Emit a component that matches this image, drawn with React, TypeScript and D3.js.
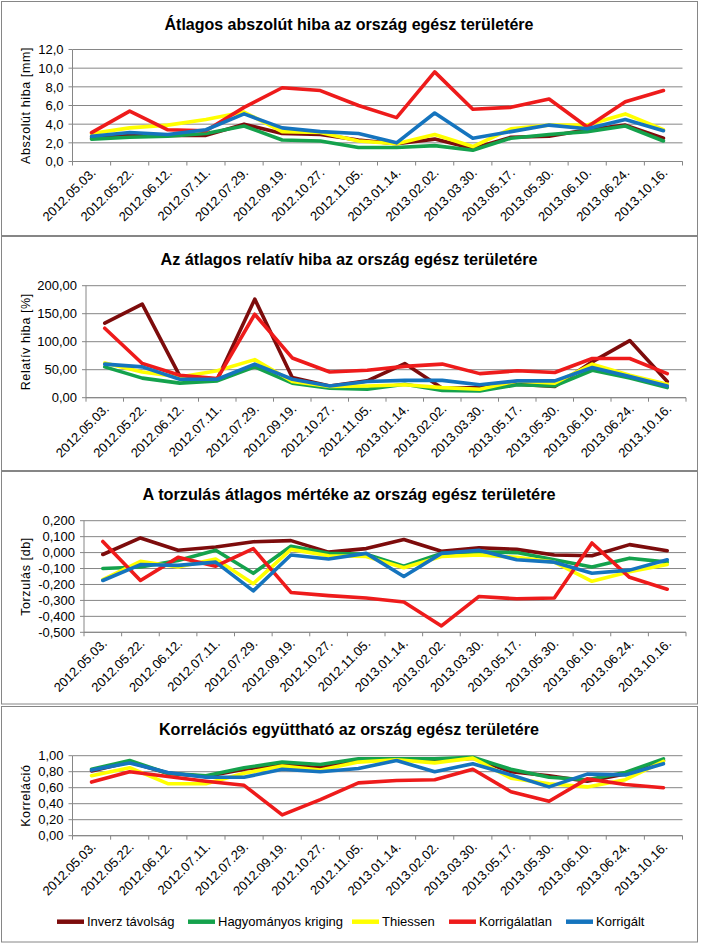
import React from "react";
import * as d3 from "d3";

const categories = [
  "2012.05.03.", "2012.05.22.", "2012.06.12.", "2012.07.11.", "2012.07.29.",
  "2012.09.19.", "2012.10.27.", "2012.11.05.", "2013.01.14.", "2013.02.02.",
  "2013.03.30.", "2013.05.17.", "2013.05.30.", "2013.06.10.", "2013.06.24.",
  "2013.10.16.",
];

const seriesNames = ["Inverz távolság", "Hagyományos kriging", "Thiessen", "Korrigálatlan", "Korrigált"];
const seriesColors = ["#7D0C0C", "#14A24C", "#FFFF00", "#EE1B1B", "#1574BE"];

// Panel 1: Átlagos abszolút hiba [mm]
const absInverz = [2.5, 2.8, 2.8, 2.8, 4.0, 3.0, 2.9, 2.3, 1.9, 2.4, 1.4, 2.6, 2.7, 3.4, 3.9, 2.5];
const absKriging = [2.4, 2.6, 2.7, 3.0, 3.8, 2.3, 2.2, 1.5, 1.5, 1.7, 1.2, 2.5, 2.9, 3.2, 3.8, 2.2];
const absThiessen = [3.0, 3.6, 3.9, 4.5, 5.3, 3.2, 3.1, 2.2, 1.9, 2.9, 1.6, 3.5, 3.9, 3.9, 5.1, 3.4];
const absKorrigalatlan = [3.1, 5.4, 3.4, 3.3, 5.8, 7.9, 7.6, 6.0, 4.7, 9.6, 5.6, 5.8, 6.7, 3.7, 6.4, 7.6];
const absKorrigalt = [2.7, 3.1, 2.9, 3.4, 5.1, 3.6, 3.2, 3.0, 2.0, 5.2, 2.5, 3.2, 3.9, 3.5, 4.5, 3.3];

// Panel 2: Relatív hiba [%]
const relInverz = [133, 167, 39, 33, 176, 36, 21, 30, 61, 17, 18, 24, 20, 64, 102, 29];
const relKriging = [55, 35, 26, 30, 55, 26, 17, 15, 24, 13, 12, 23, 21, 49, 35, 18];
const relThiessen = [62, 46, 37, 48, 68, 29, 20, 21, 23, 18, 15, 30, 26, 60, 40, 24];
const relKorrigalatlan = [124, 61, 40, 34, 149, 71, 46, 49, 56, 60, 43, 48, 45, 70, 70, 43];
const relKorrigalt = [60, 55, 33, 33, 60, 33, 21, 29, 31, 31, 23, 30, 30, 54, 38, 21];

// Panel 3: Torzulás [db]
const biasInverz = [-0.012, 0.092, 0.015, 0.035, 0.068, 0.075, 0.003, 0.025, 0.082, 0.008, 0.03, 0.02, -0.015, -0.02, 0.05, 0.012];
const biasKriging = [-0.1, -0.09, -0.05, 0.015, -0.13, 0.04, -0.005, -0.01, -0.085, -0.005, 0.005, 0.0, -0.045, -0.09, -0.035, -0.06];
const biasThiessen = [-0.17, -0.055, -0.09, -0.04, -0.195, 0.02, -0.02, -0.025, -0.095, -0.025, -0.015, -0.03, -0.06, -0.18, -0.12, -0.075];
const biasKorrigalatlan = [0.07, -0.175, -0.03, -0.085, 0.025, -0.25, -0.27, -0.285, -0.31, -0.46, -0.275, -0.29, -0.285, 0.06, -0.155, -0.23];
const biasKorrigalt = [-0.175, -0.075, -0.08, -0.06, -0.24, -0.015, -0.04, -0.005, -0.15, -0.005, 0.015, -0.045, -0.06, -0.13, -0.11, -0.045];

// Panel 4: Korreláció
const corInverz = [0.81, 0.92, 0.78, 0.74, 0.83, 0.89, 0.85, 0.95, 0.95, 0.93, 0.97, 0.8, 0.75, 0.68, 0.77, 0.94];
const corKriging = [0.83, 0.94, 0.78, 0.75, 0.85, 0.92, 0.89, 0.96, 0.96, 0.96, 0.98, 0.83, 0.73, 0.7, 0.79, 0.96];
const corThiessen = [0.75, 0.85, 0.65, 0.65, 0.78, 0.87, 0.82, 0.92, 0.95, 0.91, 0.97, 0.72, 0.65, 0.61, 0.7, 0.93];
const corKorrigalatlan = [0.67, 0.8, 0.74, 0.68, 0.63, 0.26, 0.45, 0.66, 0.69, 0.7, 0.83, 0.55, 0.43, 0.71, 0.64, 0.6];
const corKorrigalt = [0.82, 0.91, 0.79, 0.73, 0.73, 0.83, 0.8, 0.84, 0.94, 0.8, 0.9, 0.76, 0.61, 0.77, 0.76, 0.9];

const panelTitles = [
  "Átlagos abszolút hiba az ország egész területére",
  "Az átlagos relatív hiba az ország egész területére",
  "A torzulás átlagos mértéke az ország egész területére",
  "Korrelációs együttható az ország egész területére",
];
const axisTitles = ["Abszolút hiba [mm]", "Relatív hiba [%]", "Torzulás [db]", "Korreláció"];
const yMins = [0, 0, -0.5, 0];
const yMaxs = [12, 200, 0.2, 1];
const ySteps = [2, 50, 0.1, 0.2];
const yDecimals = [1, 2, 3, 2];

const panelData = [
  [absInverz, absKriging, absThiessen, absKorrigalatlan, absKorrigalt],
  [relInverz, relKriging, relThiessen, relKorrigalatlan, relKorrigalt],
  [biasInverz, biasKriging, biasThiessen, biasKorrigalatlan, biasKorrigalt],
  [corInverz, corKriging, corThiessen, corKorrigalatlan, corKorrigalt],
];

// layout (pixels)
const layouts = [
  { boxTop: 1.5, boxBottom: 235.5, left: 72.5, right: 682.5, top: 49.5, bottom: 161.5, titleY: 30, titleW: 369 },
  { boxTop: 236.5, boxBottom: 470.5, left: 86, right: 686, top: 285.7, bottom: 397.7, titleY: 265, titleW: 377 },
  { boxTop: 471.5, boxBottom: 704, left: 84, right: 686, top: 520.7, bottom: 632.3, titleY: 500, titleW: 413 },
  { boxTop: 706.5, boxBottom: 942, left: 72.5, right: 682.5, top: 755.7, bottom: 835.7, titleY: 735, titleW: 380 },
];
const legendX = [57, 188, 352, 449, 566];

const FONT = "'Liberation Sans', Arial, sans-serif";
const GRID = "#868686";

const fmt = (v: number, dec: number) => {
  const s = v.toFixed(dec).replace(".", ",");
  return /^-0,0+$/.test(s) ? s.slice(1) : s;
};

function Panel({ idx }: { idx: number }) {
  const L = layouts[idx];
  const x = d3.scaleBand<string>().domain(categories).range([L.left, L.right]).paddingInner(0).paddingOuter(0);
  const y = d3.scaleLinear().domain([yMins[idx], yMaxs[idx]]).range([L.bottom, L.top]);
  const bw = x.bandwidth();
  const ticks = d3.range(0, Math.round((yMaxs[idx] - yMins[idx]) / ySteps[idx]) + 1).map((i) => yMins[idx] + i * ySteps[idx]);
  const line = d3
    .line<number>()
    .x((_, i) => (x(categories[i]) as number) + bw / 2)
    .y((d) => y(d));
  const axisY = L.bottom;
  return (
    <g>
      <rect x={1.5} y={L.boxTop} width={696} height={L.boxBottom - L.boxTop} fill="#fff" stroke={GRID} strokeWidth={1} />
      <text x={349} y={L.titleY} textAnchor="middle" fontFamily={FONT} fontWeight="bold" fontSize={17}
        textLength={L.titleW} lengthAdjust="spacingAndGlyphs" fill="#000">
        {panelTitles[idx]}
      </text>
      {ticks.map((t, i) => (
        <g key={i}>
          <line x1={L.left} x2={L.right} y1={y(t)} y2={y(t)} stroke={GRID} strokeWidth={1} />
          <line x1={L.left - 4} x2={L.left} y1={y(t)} y2={y(t)} stroke={GRID} strokeWidth={1} />
          <text x={L.left - 9} y={y(t) + 4.7} textAnchor="end" fontFamily={FONT} fontSize={13} fill="#000">
            {fmt(t, yDecimals[idx])}
          </text>
        </g>
      ))}
      <line x1={L.left} x2={L.left} y1={L.top} y2={L.bottom} stroke={GRID} strokeWidth={1} />
      <line x1={L.left} x2={L.right} y1={axisY} y2={axisY} stroke={GRID} strokeWidth={1} />
      {d3.range(categories.length + 1).map((i) => (
        <line key={i} x1={L.left + i * bw} x2={L.left + i * bw} y1={axisY} y2={axisY + 4} stroke={GRID} strokeWidth={1} />
      ))}
      {categories.map((c) => {
        const px = (x(c) as number) + bw / 2 + 5;
        const py = axisY + 12;
        return (
          <text key={c} transform={`translate(${px},${py}) rotate(-45)`} textAnchor="end" fontFamily={FONT}
            fontSize={13} fill="#000">
            {c}
          </text>
        );
      })}
      <text transform={`translate(${30},${(L.top + L.bottom) / 2}) rotate(-90)`} textAnchor="middle"
        fontFamily={FONT} fontSize={12.5} letterSpacing={0.6} fill="#000">
        {axisTitles[idx]}
      </text>
      {panelData[idx].map((vals, s) => (
        <path key={s} d={line(vals) || ""} fill="none" stroke={seriesColors[s]} strokeWidth={3.6}
          strokeLinejoin="round" strokeLinecap="round" />
      ))}
    </g>
  );
}

export default function App() {
  const legendY = 921.7;
  return (
    <div style={{ position: "absolute", left: 0, top: 0 }}>
      <svg width={702} height={947} style={{ display: "block", background: "#fff" }}>
        {[0, 1, 2, 3].map((i) => (
          <Panel key={i} idx={i} />
        ))}
        {seriesNames.map((n, i) => (
          <g key={n}>
            <line x1={legendX[i]} x2={legendX[i] + 27} y1={legendY} y2={legendY} stroke={seriesColors[i]} strokeWidth={4.5} />
            <text x={legendX[i] + 30} y={legendY + 4.5} fontFamily={FONT} fontSize={13} fill="#000">
              {n}
            </text>
          </g>
        ))}
      </svg>
    </div>
  );
}
